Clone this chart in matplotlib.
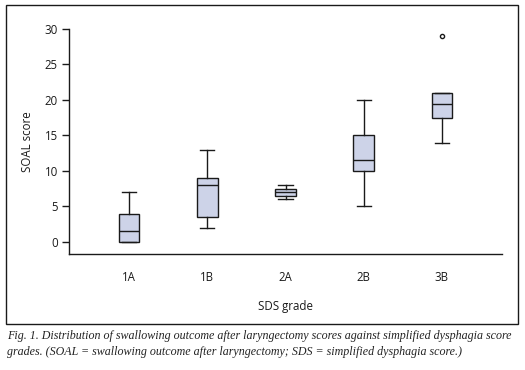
import matplotlib
matplotlib.use("Agg")
import matplotlib.pyplot as plt
from matplotlib.patches import Rectangle

categories = ["1A", "1B", "2A", "2B", "3B"]
whislo = [0, 2, 6, 5, 14]
q1 = [0, 3.5, 6.5, 10, 17.4]
med = [1.5, 8, 7, 11.5, 19.5]
q3 = [4, 9, 7.5, 15, 21]
whishi = [7, 13, 8, 20, 21]
fliers = [[], [], [], [], [29]]
yticks = [0, 5, 10, 15, 20, 25, 30]

plt.rcParams['font.family'] = ['Open Sans', 'DejaVu Sans']

W, H = 525, 370
fig = plt.figure(figsize=(W / 100, H / 100), dpi=100)

# axes placement in pixels
left, right, top, bottom = 69, 502, 29, 254
ax = fig.add_axes([left / W, 1 - bottom / H, (right - left) / W, (bottom - top) / H])

stats = []
for i, c in enumerate(categories):
    stats.append(dict(label=c, whislo=whislo[i], q1=q1[i], med=med[i],
                      q3=q3[i], whishi=whishi[i], fliers=fliers[i]))

lc = "#1a1a1a"
ax.bxp(stats, positions=range(1, 6), widths=0.26, patch_artist=True,
       showfliers=True,
       boxprops=dict(facecolor="#cdd3e8", edgecolor=lc, linewidth=1.0),
       medianprops=dict(color=lc, linewidth=1.0),
       whiskerprops=dict(color=lc, linewidth=1.0),
       capprops=dict(color=lc, linewidth=1.0),
       capwidths=0.18,
       flierprops=dict(marker="o", markersize=3, markerfacecolor="white",
                       markeredgecolor=lc, markeredgewidth=1.0))

ax.set_xlim(0.23, 5.77)
ax.set_ylim(-1.7, 30)
ax.spines["top"].set_visible(False)
ax.spines["right"].set_visible(False)
ax.spines["left"].set_bounds(-1.7, 30)
for s in ("left", "bottom"):
    ax.spines[s].set_linewidth(1.0)
    ax.spines[s].set_color(lc)
ax.set_yticks(yticks)
ax.tick_params(axis="y", length=5, width=1.0, labelsize=8.3, pad=3, colors=lc)
ax.tick_params(axis="x", length=0, labelsize=8.3, pad=12, colors=lc)
ax.set_xticklabels(categories)
ax.set_ylabel("SOAL score", fontsize=8.3, labelpad=8, color=lc)
ax.set_xlabel("SDS grade", fontsize=8.3, labelpad=12, color=lc)

# outer frame
fig.patches.append(Rectangle((6 / W, 1 - 324 / H), (518 - 6) / W, (324 - 5) / H,
                             transform=fig.transFigure, fill=False,
                             edgecolor=lc, linewidth=1.0))

cap = ("Fig. 1. Distribution of swallowing outcome after laryngectomy scores against simplified dysphagia score\n"
       "grades. (SOAL = swallowing outcome after laryngectomy; SDS = simplified dysphagia score.)")
fig.text(7 / W, 1 - 330 / H, cap, family="Liberation Serif", style="italic",
         fontsize=8.65, va="top", ha="left", color="#222222", linespacing=1.4)

fig.savefig("out.png", dpi=100)
